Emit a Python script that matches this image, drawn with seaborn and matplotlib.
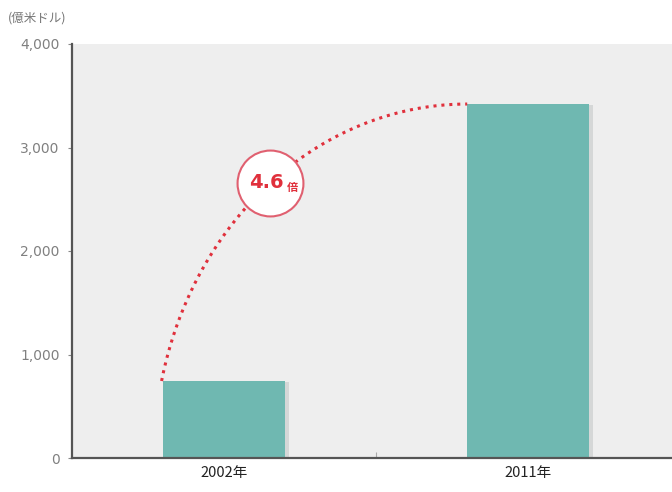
import numpy as np
import pandas as pd
import matplotlib
matplotlib.use('Agg')
import matplotlib.pyplot as plt
import matplotlib.patheffects as pe
import seaborn as sns

years = ['2002年', '2011年']
values = [744, 3420]
y_ticks = [0, 1000, 2000, 3000, 4000]
y_tick_labels = ['0', '1,000', '2,000', '3,000', '4,000']
unit_label = '(億米ドル)'
ratio_label = '4.6'
ratio_suffix = '倍'

BAR_COLOR = '#6fb8b1'
RED = '#e0303c'


def main():
    sns.set_style('white')
    plt.rcParams['font.family'] = ['Noto Sans CJK JP', 'DejaVu Sans']

    df = pd.DataFrame({'Year': years, 'Value': values})

    fig = plt.figure(figsize=(6.72, 4.92), dpi=100)
    ax = fig.add_axes([72 / 672, 34 / 492, 600 / 672, 414 / 492])
    ax.set_facecolor('#eeeeee')

    g = sns.barplot(data=df, x='Year', y='Value', color=BAR_COLOR,
                    saturation=1, width=0.4, linewidth=0, ax=ax)
    for p in g.patches:
        p.set_path_effects([pe.SimplePatchShadow(offset=(3, -1), alpha=0.12),
                            pe.Normal()])

    ax.set_xlim(-0.5, -0.5 + 600 / 304)
    ax.set_ylim(0, 4000)
    ax.set_yticks(y_ticks)
    ax.set_yticklabels(y_tick_labels, color='#808080', fontsize=10,
                       family=['DejaVu Sans'])
    ax.set_xlabel('')
    ax.set_ylabel('')
    ax.tick_params(axis='y', direction='out', length=3, width=0.8,
                   color='#888888', pad=6, left=True)
    ax.tick_params(axis='x', length=0, pad=6, labelsize=10.5,
                   labelcolor='#222222')
    ax.set_xticks([0.5], minor=True)
    ax.tick_params(axis='x', which='minor', direction='in', length=4,
                   width=0.8, color='#aaaaaa', bottom=True)

    for side in ['top', 'right']:
        ax.spines[side].set_visible(False)
    for side in ['left', 'bottom']:
        ax.spines[side].set_color('#555555')
        ax.spines[side].set_linewidth(1.6)

    # dotted arc from the first bar to the top of the second
    cx = 1 - 0.2
    rx = 1.03
    ry = values[1]
    t0 = np.arcsin(values[0] / values[1])
    t = np.linspace(t0, np.pi / 2, 200)
    ax.plot(cx - rx * np.cos(t), ry * np.sin(t), color=RED,
            linestyle=(0, (1, 1.6)), linewidth=2.2, zorder=4)

    tm = 0.89
    mx, my = cx - rx * np.cos(tm), ry * np.sin(tm)
    ax.scatter([mx], [my], s=2250, facecolor='white', edgecolor='#e06070',
               linewidth=1.5, zorder=5)
    ax.text(mx - 0.012, my, ratio_label, color=RED, fontsize=14,
            fontweight='bold', ha='center', va='center', zorder=6,
            family=['DejaVu Sans'])
    ax.text(mx + 0.075, my - 40, ratio_suffix, color=RED, fontsize=8,
            fontweight='bold', ha='center', va='center', zorder=6)

    fig.text(8 / 672, 1 - 18 / 492, unit_label, color='#777777',
             fontsize=9, va='center', ha='left')

    fig.savefig('out.png', dpi=100)


if __name__ == '__main__':
    main()
